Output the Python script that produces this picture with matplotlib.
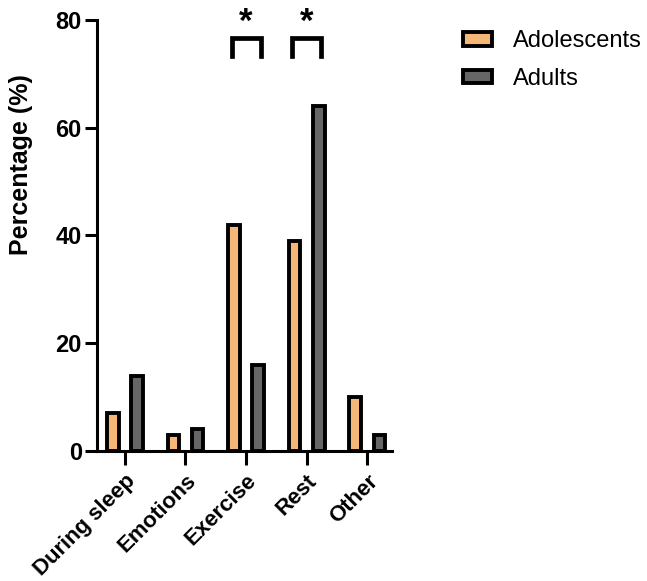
import matplotlib.pyplot as plt
import numpy as np

plt.rcParams['font.family'] = ['Liberation Sans', 'DejaVu Sans']

# data
categories = ['During sleep', 'Emotions', 'Exercise', 'Rest', 'Other']
adolescents = [7, 3, 42, 39, 10]
adults = [14, 4, 16, 64, 3]
sig_groups = [2, 3]   # groups with a * bracket

orange = '#F5B778'
grey = '#666666'

fig = plt.figure(figsize=(6.47, 5.81), dpi=100)
ax = fig.add_axes([0.150, 0.2238, 0.456, 0.7418])

x = np.arange(len(categories))
off = 0.2
w = 0.19
ax.bar(x - off, adolescents, w, color=orange, edgecolor='black',
       linewidth=2.8, label='Adolescents')
ax.bar(x + off, adults, w, color=grey, edgecolor='black',
       linewidth=2.8, label='Adults')

# significance brackets
for g in sig_groups:
    ax.plot([g - 0.24, g - 0.24, g + 0.24, g + 0.24],
            [73.4, 76.6, 76.6, 73.4], color='black', lw=3.4,
            solid_joinstyle='miter', clip_on=False)
    ax.text(g, 79.6, '*', ha='center', va='center', fontsize=25,
            fontweight='bold', clip_on=False)

ax.set_xlim(-0.46, 4.41)
ax.set_ylim(0, 80)
ax.set_yticks([0, 20, 40, 60, 80])
ax.set_xticks(x)
ax.set_xticklabels(categories, rotation=45, ha='right',
                   rotation_mode='anchor', fontsize=16, fontweight='bold')
for lab in ax.get_yticklabels():
    lab.set_fontsize(17)
    lab.set_fontweight('bold')
ax.set_ylabel('Percentage (%)', fontsize=18, fontweight='bold')
ax.yaxis.set_label_coords(-0.217, 0.664)

ax.spines['top'].set_visible(False)
ax.spines['right'].set_visible(False)
ax.spines['left'].set_linewidth(2.2)
ax.spines['bottom'].set_linewidth(2.2)
ax.tick_params(axis='x', length=10, width=2.2, pad=4)
ax.tick_params(axis='y', length=9, width=2.2, pad=2)

ax.legend(loc='upper left', bbox_to_anchor=(1.17, 1.025), frameon=False,
          fontsize=17, handlelength=1.19, handleheight=0.5,
          handletextpad=0.9, labelspacing=0.65)

fig.savefig('out.png', dpi=100)
